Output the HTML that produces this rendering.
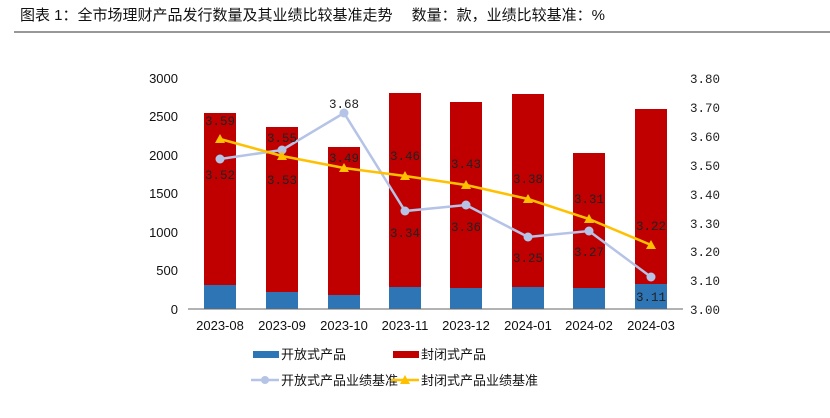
<!DOCTYPE html>
<html><head><meta charset="utf-8"><style>
body{margin:0;background:#fff;width:830px;height:418px;overflow:hidden}
svg{display:block}
text{font-family:"Liberation Sans","Noto Sans CJK SC",sans-serif}
.t{font-size:13px;fill:#111}
text.v{font-family:"Liberation Mono","DejaVu Sans Mono",monospace;font-size:12.5px;fill:#222}
.lg{font-size:13px;fill:#111}
</style></head><body>
<svg width="830" height="418" xmlns="http://www.w3.org/2000/svg">
<text x="20" y="20" style="font-size:15px;fill:#111">图表 1：全市场理财产品发行数量及其业绩比较基准走势　 数量：款，业绩比较基准：%</text>
<line x1="14" y1="32" x2="830" y2="32" stroke="#777" stroke-width="1.5"/>
<g class="t" text-anchor="end">
<text x="178" y="83">3000</text><text x="178" y="121">2500</text><text x="178" y="160">2000</text>
<text x="178" y="198">1500</text><text x="178" y="237">1000</text><text x="178" y="275">500</text><text x="178" y="314">0</text>
</g>
<g text-anchor="start">
<text class="v" x="690" y="83">3.80</text><text class="v" x="690" y="112">3.70</text><text class="v" x="690" y="141">3.60</text><text class="v" x="690" y="170">3.50</text>
<text class="v" x="690" y="199">3.40</text><text class="v" x="690" y="228">3.30</text><text class="v" x="690" y="256">3.20</text><text class="v" x="690" y="285">3.10</text><text class="v" x="690" y="314">3.00</text>
</g>
<g fill="#c00000">
<rect x="204" y="113" width="32" height="196"/><rect x="266" y="127" width="32" height="182"/>
<rect x="328" y="147" width="32" height="162"/><rect x="389" y="93" width="32" height="216"/>
<rect x="450" y="102" width="32" height="207"/><rect x="512" y="94" width="32" height="215"/>
<rect x="573" y="153" width="32" height="156"/><rect x="635" y="109" width="32" height="200"/>
</g>
<g fill="#2e75b6">
<rect x="204" y="285" width="32" height="24"/><rect x="266" y="292" width="32" height="17"/>
<rect x="328" y="295" width="32" height="14"/><rect x="389" y="287" width="32" height="22"/>
<rect x="450" y="288" width="32" height="21"/><rect x="512" y="287" width="32" height="22"/>
<rect x="573" y="288" width="32" height="21"/><rect x="635" y="284" width="32" height="25"/>
</g>
<line x1="188" y1="309" x2="683" y2="309" stroke="#666"/>
<g class="t" text-anchor="middle">
<text x="220" y="330">2023-08</text><text x="282" y="330">2023-09</text><text x="344" y="330">2023-10</text><text x="405" y="330">2023-11</text>
<text x="466" y="330">2023-12</text><text x="528" y="330">2024-01</text><text x="589" y="330">2024-02</text><text x="651" y="330">2024-03</text>
</g>
<polyline fill="none" stroke="#b4c3e6" stroke-width="2.5" points="220,159 282,150 344,113 405,211 466,205 528,237 589,231 651,277"/>
<g fill="#b4c3e6">
<circle cx="220" cy="159" r="4.5"/><circle cx="282" cy="150" r="4.5"/><circle cx="344" cy="113" r="4.5"/><circle cx="405" cy="211" r="4.5"/>
<circle cx="466" cy="205" r="4.5"/><circle cx="528" cy="237" r="4.5"/><circle cx="589" cy="231" r="4.5"/><circle cx="651" cy="277" r="4.5"/>
</g>
<polyline fill="none" stroke="#ffc000" stroke-width="2.5" points="220,139 282,156 344,168 405,176 466,185 528,199 589,219 651,245"/>
<g fill="#ffc000">
<path d="M220,134 l5,9 h-10z"/><path d="M282,151 l5,9 h-10z"/><path d="M344,163 l5,9 h-10z"/><path d="M405,171 l5,9 h-10z"/>
<path d="M466,180 l5,9 h-10z"/><path d="M528,194 l5,9 h-10z"/><path d="M589,214 l5,9 h-10z"/><path d="M651,240 l5,9 h-10z"/>
</g>
<g text-anchor="middle">
<text class="v" x="220" y="125">3.59</text><text class="v" x="282" y="142">3.55</text><text class="v" x="344" y="108">3.68</text><text class="v" x="405" y="160">3.46</text>
<text class="v" x="466" y="168">3.43</text><text class="v" x="528" y="183">3.38</text><text class="v" x="589" y="203">3.31</text><text class="v" x="651" y="230">3.22</text>
<text class="v" x="220" y="179">3.52</text><text class="v" x="282" y="184">3.53</text><text class="v" x="344" y="162">3.49</text><text class="v" x="405" y="237">3.34</text>
<text class="v" x="466" y="231">3.36</text><text class="v" x="528" y="262">3.25</text><text class="v" x="589" y="256">3.27</text><text class="v" x="651" y="301">3.11</text>
</g>
<rect x="253" y="351" width="26" height="7" fill="#2e75b6"/>
<text x="281" y="359" class="lg">开放式产品</text>
<rect x="393" y="351" width="26" height="7" fill="#c00000"/>
<text x="421" y="359" class="lg">封闭式产品</text>
<line x1="251" y1="380" x2="279" y2="380" stroke="#b4c3e6" stroke-width="2.5"/><circle cx="265" cy="380" r="4" fill="#b4c3e6"/>
<text x="281" y="385" class="lg">开放式产品业绩基准</text>
<line x1="391" y1="380" x2="419" y2="380" stroke="#ffc000" stroke-width="2.5"/><path d="M405,375 l5,9 h-10z" fill="#ffc000"/>
<text x="421" y="385" class="lg">封闭式产品业绩基准</text>
</svg>
</body></html>
